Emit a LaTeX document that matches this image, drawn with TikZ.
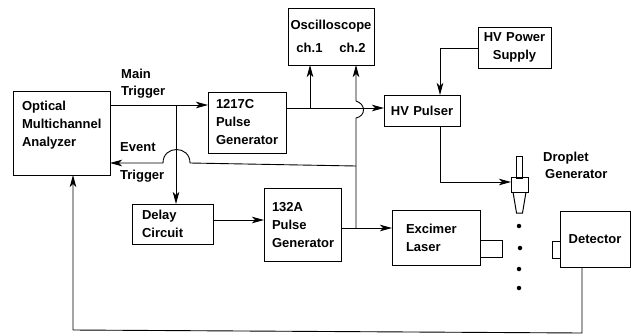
\documentclass[tikz,border=0pt]{standalone}
\usepackage{fontspec}
\setmainfont{Liberation Sans}[BoldFont=* Bold]
\usetikzlibrary{arrows.meta}
\tikzset{
  wire/.style={line width=0.9pt,line join=round},
  arr/.style={wire,-{Stealth[length=12pt,width=6.5pt,inset=3pt]}},
  box/.style={draw,line width=1pt,outer sep=0pt,inner sep=0pt,font=\bfseries\fontsize{13}{18}\selectfont},
  lbl/.style={inner sep=0pt,align=left,anchor=west,font=\bfseries\fontsize{13}{17}\selectfont},
  lftbox/.style={box,align=left},
  ctrbox/.style={box,align=center},
  part/.style={draw,line width=1pt,outer sep=0pt,inner sep=0pt},
  drop/.style={circle,fill,inner sep=0pt,minimum size=4.5pt}
}
\begin{document}
\begin{tikzpicture}[x=1pt,y=-1pt]
\useasboundingbox (0,0) rectangle (631,335);
% boxes
\node[lftbox,minimum height=84pt,text width=85pt,inner xsep=6pt] (oma) at (61.5,133) {\hspace{3pt}Optical\\\hspace{3pt}Multichannel\\\hspace{3pt}Analyzer\\~};
\node[lftbox,minimum height=61pt,text width=70pt,inner xsep=4pt] (pg1) at (247,122.5) {\hspace{4pt}1217C\\\hspace{4pt}Pulse\\\hspace{4pt}Generator};
\node[lftbox,minimum height=40pt,text width=61pt,inner xsep=10pt] (delay) at (172.5,224) {Delay\\Circuit};
\node[lftbox,minimum height=73pt,text width=69pt,inner xsep=4pt] (pg2) at (302.5,225) {\hspace{4pt}132A\\\hspace{4pt}Pulse\\\hspace{4pt}Generator};
\node[ctrbox,minimum height=57pt,text width=86pt] (osc) at (331,36.5) {~\\[-9pt]Oscilloscope\\[5pt]ch.1\hspace{17pt}ch.2};
\node[ctrbox,minimum height=41pt,text width=73pt] (hvps) at (514.5,47.5) {HV Power\\Supply};
\node[ctrbox,minimum height=31pt,text width=76pt] (hvp) at (422,110.5) {HV Pulser};
\node[lftbox,minimum height=55pt,text width=60pt,inner xsep=14pt] (laser) at (436,237.5) {Excimer\\Laser};
\node[part,minimum width=22pt,minimum height=17pt] (lasernose) at (491,248.5) {};
\node[ctrbox,minimum height=56pt,text width=70pt] (det) at (595,239) {Detector};
\node[part,minimum width=8pt,minimum height=17pt] (detnose) at (556,249.5) {};
% droplet generator
\node[part,minimum width=6pt,minimum height=22pt] (tube) at (519,167) {};
\node[part,minimum width=17pt,minimum height=15pt] (dg) at (519.5,184.5) {};
\draw[line width=1pt] (513,192) -- (516.5,213) -- (522.5,213) -- (526,192);
\node[drop] (d1) at (519,226) {};
\node[drop] (d2) at (520,248) {};
\node[drop] (d3) at (519,269) {};
\node[drop] (d4) at (519,288) {};
\node[lbl] (dgl) at (543,165.5) {Droplet\\\hspace{2pt}Generator};
% labels
\node[lbl] (main) at (121,83.5) {Main\\Trigger};
\node[lbl] (evt1) at (120,147) {Event};
\node[lbl] (evt2) at (120,176) {Trigger};
% helper points
\coordinate (mt) at (176,105);
\coordinate (ev) at (356,166);
\coordinate (lj) at (356,228);
\coordinate (scp) at (310,108);
\coordinate (ps) at (440,48);
\coordinate (dr) at (440,182);
\coordinate (fbr) at (582,333);
\coordinate (fbl) at (73,330);
% connectors
\draw[arr] (oma.east |- mt) -- (pg1.west |- mt);
\draw[arr] (mt) -- (mt |- delay.north);
\draw[arr] (ev) -- (190,163) .. controls (190,145) and (163,145) .. (163,163) -- (oma.east |- 0,163);
\draw[arr] (delay.east |- 0,220) -- (pg2.west |- 0,220);
\draw[arr] (pg2.east |- lj) -- (laser.west |- lj);
\draw[arr] (pg1.east |- scp) -- (hvp.west |- scp);
\draw[arr] (scp) -- (scp |- osc.south);
\draw[arr] (lj) -- (356,118) .. controls (366,116) and (366,104) .. (356,101) -- (356,65);
\draw[arr] (hvps.west |- ps) -- (ps) -- (ps |- hvp.north);
\draw[arr] (hvp.south -| dr) -- (dr) -- (dg.west |- dr);
\draw[arr] (det.south -| fbr) -- (fbr) -- (fbl) -- (fbl |- oma.south);
\end{tikzpicture}
\end{document}
